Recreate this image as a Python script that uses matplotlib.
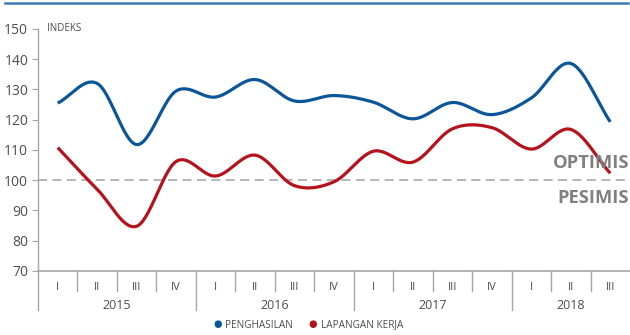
import numpy as np
import matplotlib
matplotlib.use("Agg")
import matplotlib.pyplot as plt
from matplotlib.lines import Line2D
from matplotlib.transforms import blended_transform_factory

plt.rcParams['font.family'] = ['Open Sans', 'DejaVu Sans']

quarters = ["I", "II", "III", "IV", "I", "II", "III", "IV", "I", "II", "III", "IV", "I", "II", "III"]
years = ["2015", "2016", "2017", "2018"]
year_spans = [(0, 3), (4, 7), (8, 11), (12, 14)]
penghasilan = [125.5, 132.0, 111.8, 129.5, 127.5, 133.3, 126.2, 128.0, 125.8, 120.3, 125.7, 121.7, 127.2, 138.6, 119.3]
lapangan_kerja = [110.8, 97.0, 84.8, 106.2, 101.4, 108.3, 98.2, 99.5, 109.6, 106.0, 117.0, 117.4, 110.3, 116.8, 102.3]

BLUE = "#0b5699"
RED = "#b5121b"
GREY_TXT = "#4d4d4d"
AXIS = "#a6a6a6"


def smooth(y, n=30):
    """Catmull-Rom spline through the points."""
    y = np.asarray(y, float)
    x = np.arange(len(y), dtype=float)
    p = np.concatenate([[2 * y[0] - y[1]], y, [2 * y[-1] - y[-2]]])
    xs, ys = [], []
    for i in range(len(y) - 1):
        p0, p1, p2, p3 = p[i], p[i + 1], p[i + 2], p[i + 3]
        t = np.linspace(0, 1, n, endpoint=(i == len(y) - 2))
        seg = 0.5 * ((2 * p1) + (-p0 + p2) * t + (2 * p0 - 5 * p1 + 4 * p2 - p3) * t ** 2
                     + (-p0 + 3 * p1 - 3 * p2 + p3) * t ** 3)
        xs.append(x[i] + t)
        ys.append(seg)
    return np.concatenate(xs), np.concatenate(ys)


W, H = 630, 335
fig = plt.figure(figsize=(W / 100, H / 100), dpi=100)
fig.patch.set_facecolor("white")

# top rule
fig.add_artist(Line2D([5 / W, 628 / W], [1 - 3 / H, 1 - 3 / H], color="#3d7ab5", lw=1.8))

left, right, top, bottom = 38, 630, 29, 271
ax = fig.add_axes([left / W, 1 - bottom / H, (right - left) / W, (bottom - top) / H])
ax.set_xlim(-0.5, len(quarters) - 0.5)
ax.set_ylim(70, 150)
ax.set_yticks(range(70, 151, 10))
ax.tick_params(axis="y", length=4, color=AXIS, labelsize=10, labelcolor=GREY_TXT, pad=3)
ax.set_xticks([])
for s in ["top", "right"]:
    ax.spines[s].set_visible(False)
ax.spines["left"].set_color(AXIS)
ax.spines["bottom"].set_color(AXIS)
ax.spines["left"].set_linewidth(1)
ax.spines["bottom"].set_linewidth(1.2)

ax.axhline(100, xmin=0, xmax=(625 - left) / (right - left), color="#b0b0b0", lw=1.3, ls=(0, (5, 3)))

xs, ys = smooth(penghasilan)
ax.plot(xs, ys, color=BLUE, lw=2.3, solid_capstyle="butt", zorder=3)
xs, ys = smooth(lapangan_kerja)
ax.plot(xs, ys, color=RED, lw=2.3, solid_capstyle="butt", zorder=3)

ax.text(0.015, 150, "INDEKS", fontsize=7, color=GREY_TXT, va="center", ha="left",
        transform=blended_transform_factory(ax.transAxes, ax.transData))

# zone labels either side of the neutral line
def fy(py):
    return 1 - py / H

fig.text(629 / W, fy(163), "OPTIMIS", fontsize=13.2, fontweight="bold", color="#808080",
         ha="right", va="center", zorder=2)
fig.text(629 / W, fy(198), "PESIMIS", fontsize=13.2, fontweight="bold", color="#808080",
         ha="right", va="center", zorder=2)

# category axis below the plot
tr = blended_transform_factory(ax.transData, fig.transFigure)
for i, q in enumerate(quarters):
    ax.text(i, fy(287), q, transform=tr, ha="center", va="center", fontsize=8, color=GREY_TXT)
year_starts = {s for s, _ in year_spans}
for b in range(len(quarters)):
    xb = b - 0.5
    y_end = 310 if b in year_starts else 291
    ax.add_artist(Line2D([xb, xb], [fy(271), fy(y_end)], transform=tr, color=AXIS, lw=1, clip_on=False))
for (s, e), yr in zip(year_spans, years):
    ax.text((s + e) / 2, fy(305.5), yr, transform=tr, ha="center", va="center", fontsize=9, color=GREY_TXT)

# legend
fig.text(218 / W, fy(325), "\u25CF", color=BLUE, fontsize=7, ha="center", va="center")
fig.text(225 / W, fy(325), "PENGHASILAN", color=GREY_TXT, fontsize=7.2, ha="left", va="center")
fig.text(313 / W, fy(325), "\u25CF", color=RED, fontsize=7, ha="center", va="center")
fig.text(321 / W, fy(325), "LAPANGAN KERJA", color=GREY_TXT, fontsize=7.2, ha="left", va="center")

fig.savefig("out.png", dpi=100, facecolor="white")
